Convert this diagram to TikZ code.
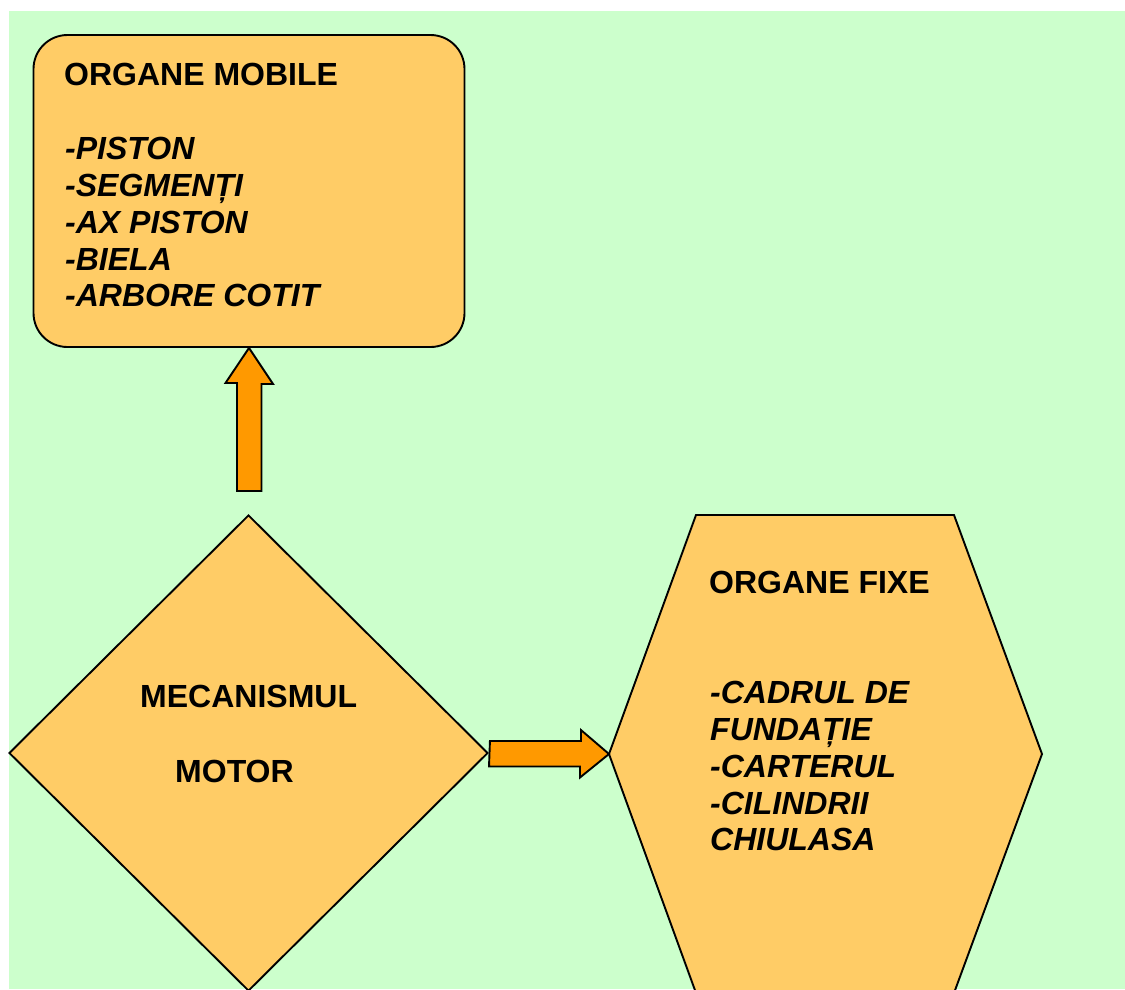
\documentclass[tikz,border=0pt]{standalone}
\usepackage{fontspec}
\setmainfont{Liberation Sans}
\usetikzlibrary{shapes.geometric}
\definecolor{paper}{HTML}{CCFFCC}
\definecolor{organ}{HTML}{FFCC66}
\definecolor{arrowfill}{HTML}{FF9900}
\tikzset{
  part/.style={draw=black, line width=1.9pt, fill=organ},
  blockarrow/.style={draw=black, line width=1.9pt, fill=arrowfill, line join=miter},
  head/.style={inner sep=0pt, anchor=base west, font=\fontsize{32}{37}\selectfont\bfseries},
  item/.style={inner sep=0pt, anchor=base west, font=\fontsize{32}{37}\selectfont\bfseries\itshape},
}
\begin{document}
\begin{tikzpicture}[x=1pt, y=-1pt]
\useasboundingbox (0,0) rectangle (1125,989);
\clip (0,0) rectangle (1125,989);
% page background
\fill[paper] (9,11) rectangle (1125,989);

% moving parts box
\node[part, rectangle, rounded corners=34pt, minimum width=431pt, minimum height=312pt,
      inner sep=0pt] (mobile) at (249,191) {};

% engine mechanism diamond
\node[part, diamond, minimum width=479pt, minimum height=476pt, inner sep=0pt,
      shape aspect=1] (mech) at (248.5,753) {};

% fixed parts hexagon
\coordinate (fl) at (609,754);
\coordinate (ftl) at (696,515);
\coordinate (ftr) at (954,515);
\coordinate (fr) at (1042,754);
\coordinate (fbr) at (954,993);
\coordinate (fbl) at (696,993);
\draw[part] (fl) -- (ftl) -- (ftr) -- (fr) -- (fbr) -- (fbl) -- cycle;

% arrow: mechanism -> moving parts
\coordinate (upbase) at (249.5,491);
\draw[blockarrow] (mobile.south)
  -- ++(24,36) -- ++(-11.5,0) |- (upbase) -- ++(-12.5,0)
  -- ++(0,-108) -- ++(-11.5,0) -- cycle;

% arrow: mechanism -> fixed parts
\draw[blockarrow] (mech.east) ++(1,-12) coordinate (rs)
  -- ++(91,0) -- ++(0,-11) -- (fl) -- ++(-29,23.5) -- ++(0,-11)
  -- ++(-91,0) -- cycle;

% labels
\node[head] (tmob) at (64,85.5) {ORGANE MOBILE};
\node[item] (m1) at (65,159) {-PISTON};
\node[item] (m2) at (65,196) {-SEGMENȚI};
\node[item] (m3) at (65,233) {-AX PISTON};
\node[item] (m4) at (65,270) {-BIELA};
\node[item] (m5) at (65,306) {-ARBORE COTIT};

\node[head] (tmec1) at (140,707) {MECANISMUL};
\node[head] (tmec2) at (175,782) {MOTOR};

\node[head] (tfix) at (709,593) {ORGANE FIXE};
\node[item] (f1) at (710,703) {-CADRUL DE};
\node[item] (f2) at (710,740) {FUNDAȚIE};
\node[item] (f3) at (710,777) {-CARTERUL};
\node[item] (f4) at (710,814) {-CILINDRII};
\node[item] (f5) at (710,850) {CHIULASA};
\end{tikzpicture}
\end{document}
